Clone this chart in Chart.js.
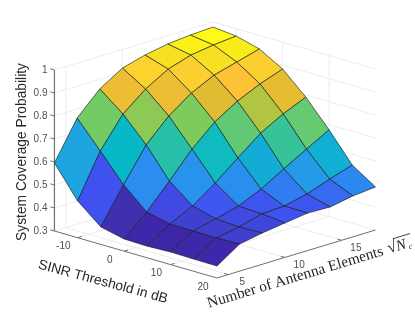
<!DOCTYPE html>
<html><head><meta charset="utf-8">
<style>html,body{margin:0;padding:0;background:#fff}#w{width:415px;height:312px;position:relative}canvas{display:block}</style>
<script src="https://cdn.jsdelivr.net/npm/chart.js@4"></script>
</head><body><div id="w"><canvas id="c" width="415" height="312"></canvas></div>
<script>
const sinrValues=[-15,-10,-5,0,5,10,15,20];
const antennaValues=[4,6,8,10,12,14,16,18];
const coverage=[
 [.596,.761,.858,.919,.946,.964,.973,.978],
 [.460,.647,.778,.857,.914,.945,.959,.968],
 [.376,.529,.673,.769,.839,.887,.914,.941],
 [.353,.440,.545,.654,.742,.803,.848,.883],
 [.351,.417,.466,.536,.615,.693,.747,.790],
 [.355,.416,.439,.465,.509,.567,.623,.677],
 [.353,.415,.433,.460,.464,.487,.522,.553],
 [.352,.418,.436,.450,.463,.460,.478,.487]];
const zTicks=[.3,.4,.5,.6,.7,.8,.9,1];
const sinrTicks=[-10,0,10,20];
const antennaTicks=[5,10,15];

const Z0=.3,Z1=1,S0=-15,S1=20,N0=4,N1=18;
const OX=54,OY=231,PZ=230;
function proj(s,n,z){
  const a=(s-S0)/(S1-S0),b=(n-N0)/(N1-N0);
  return {x:OX+a*163+b*159,y:OY+a*47-b*48-(z-Z0)*PZ};
}
const ramp=[[0,62,38,168],[.04,64,48,176],[.17,64,80,240],[.28,43,140,240],[.39,30,165,224],[.47,5,184,200],[.51,36,192,171],[.65,111,203,104],[.70,160,200,72],[.78,224,188,48],[.85,255,192,56],[.90,252,208,48],[.95,247,224,32],[1,255,255,16]];
function parula(t){
  t=Math.max(0,Math.min(1,t));
  let i=0;while(i<ramp.length-2&&t>ramp[i+1][0])i++;
  const A=ramp[i],B=ramp[i+1],f=(t-A[0])/(B[0]-A[0]);
  const c=[1,2,3].map(k=>Math.round(A[k]+(B[k]-A[k])*f));
  return `rgb(${c[0]},${c[1]},${c[2]})`;
}
const flat=coverage.flat(),zMin=Math.min(...flat),zMax=Math.max(...flat);
const datasets=[];
function line(pts,color,w){datasets.push({data:pts,borderColor:color,borderWidth:w,pointRadius:0,fill:false,tension:0});}
// surface, front cells first so the back ones are painted underneath
for(let i=sinrValues.length-2;i>=0;i--){
  for(let j=0;j<antennaValues.length-1;j++){
    const pts=[[i,j],[i+1,j],[i+1,j+1],[i,j+1],[i,j]].map(([a,b])=>proj(sinrValues[a],antennaValues[b],coverage[a][b]));
    datasets.push({data:pts,borderColor:'rgba(20,30,30,.8)',borderWidth:.8,pointRadius:0,tension:0,
      fill:'shape',backgroundColor:parula((coverage[i][j]-zMin)/(zMax-zMin))});
  }
}
const AX='#707070',GR='#ececec';
// axis lines and tick marks
line([proj(S0,N0,Z0),proj(S1,N0,Z0)],AX,1);
line([proj(S1,N0,Z0),proj(S1,N1,Z0)],AX,1);
line([proj(S0,N0,Z0),proj(S0,N0,Z1)],AX,1.2);
zTicks.forEach(z=>line([proj(S0,N0,z),proj(S0-.9,N0,z)],AX,1));
sinrTicks.slice(0,3).forEach(s=>line([proj(s,N0,Z0),proj(s,N0+.35,Z0)],AX,1));
antennaTicks.forEach(n=>line([proj(S1,n,Z0),proj(S1-.9,n,Z0)],AX,1));
// grid on the floor and the two back walls
sinrTicks.slice(0,3).forEach(s=>{line([proj(s,N0,Z0),proj(s,N1,Z0),proj(s,N1,Z1)],GR,1);});
antennaTicks.forEach(n=>{line([proj(S1,n,Z0),proj(S0,n,Z0),proj(S0,n,Z1)],GR,1);});
zTicks.forEach(z=>{line([proj(S0,N0,z),proj(S0,N1,z),proj(S1,N1,z)],GR,1);});

const textPlugin={id:'labels3d',afterDraw(ch){
  const c=ch.ctx;
  const put=(txt,x,y,font,col,rot,al)=>{c.save();c.translate(x,y);c.rotate(rot||0);c.font=font;c.fillStyle=col;c.textAlign=al||'center';c.textBaseline='middle';c.fillText(txt,0,0);c.restore();};
  const TF='10px "Liberation Sans"',TC='#505050',SF='"Liberation Sans"',T='#262626';
  sinrTicks.forEach(s=>{const p=proj(s,N0,Z0);put(String(s),p.x-14,p.y+9,TF,TC);});
  antennaTicks.forEach(n=>{const p=proj(S1,n,Z0);put(String(n),p.x+14,p.y+8,TF,TC);});
  put('System Coverage Probability',22,152,'13.8px '+SF,T,-Math.PI/2);
  put('SINR Threshold in dB',103,282,'13.8px '+SF,T,Math.atan2(35,130));
  // lower right axis title with sqrt(Nc)
  c.save();c.translate(208,305);c.rotate(-Math.atan2(48,159));
  c.fillStyle=T;c.strokeStyle=T;c.textAlign='left';c.textBaseline='alphabetic';
  c.font='15.3px "Liberation Serif"';
  const main='Number of Antenna Elements';
  c.fillText(main,0,3);
  const w=c.measureText(main).width;
  c.font='17px "Liberation Serif"';
  c.fillText('\u221A',w+5,3);
  c.font='italic 15px "Liberation Serif"';
  c.fillText('N',w+14,3);
  c.font='italic 8px "Liberation Serif"';
  c.fillText('c',w+26,5);
  c.lineWidth=.8;c.beginPath();c.moveTo(w+13,-10);c.lineTo(w+31,-10);c.stroke();
  c.restore();
}};
const chart=new Chart(document.getElementById('c'),{
  type:'line',
  data:{datasets},
  options:{
    responsive:false,animation:false,events:[],
    layout:{padding:0},
    plugins:{legend:{display:false},tooltip:{enabled:false},title:{display:false}},
    scales:{
      x:{type:'linear',min:0,max:415,display:false},
      y:{type:'linear',min:0,max:312,reverse:true,display:false},
      z:{type:'linear',axis:'y',position:{x:OX-7},min:Z0-(312-OY)/PZ,max:Z0+OY/PZ,
        afterBuildTicks(a){a.ticks=zTicks.map(v=>({value:v}));},
        border:{display:false},
        grid:{drawOnChartArea:false,tickLength:7,color:'transparent'},
        ticks:{autoSkip:false,padding:0,color:'#505050',font:{family:'Liberation Sans',size:10},
          callback:v=>String(+v.toFixed(1))}}
    }
  },
  plugins:[textPlugin]
});
// the z tick labels inset the chart area: fit the pixel-space scales to it
const ca=chart.chartArea,sc=chart.options.scales;
sc.x.min=ca.left;sc.x.max=ca.right;
sc.y.min=ca.top;sc.y.max=ca.bottom;
sc.z.min=Z0-(ca.bottom-OY)/PZ;sc.z.max=Z0+(OY-ca.top)/PZ;
chart.update('none');
</script></body></html>
